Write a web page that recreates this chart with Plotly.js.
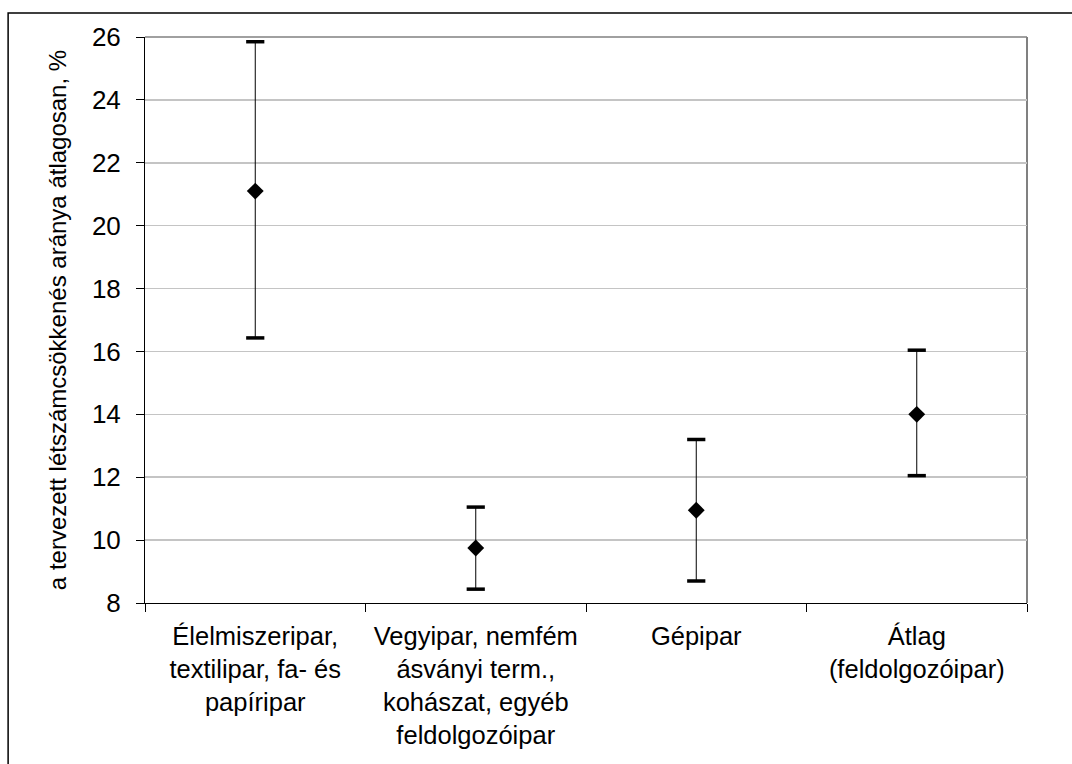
<!DOCTYPE html>
<html>
<head>
<meta charset="utf-8">
<script src="https://cdn.plot.ly/plotly-3.0.1.min.js"></script>
<style>
html,body{margin:0;padding:0;background:#fff;}
#chart{width:1072px;height:764px;}
</style>
</head>
<body>
<div id="chart"></div>
<script>
const categories = [
  "Élelmiszeripar,<br>textilipar, fa- és<br>papíripar",
  "Vegyipar, nemfém<br>ásványi term.,<br>kohászat, egyéb<br>feldolgozóipar",
  "Gépipar",
  "Átlag<br>(feldolgozóipar)"
];
const meanValues  = [21.1, 9.75, 10.95, 14.0];
const upperValues = [25.85, 11.05, 13.2, 16.04];
const lowerValues = [16.43, 8.44, 8.7, 12.05];
const yTickValues = [8, 10, 12, 14, 16, 18, 20, 22, 24, 26];

const plus  = upperValues.map((u, i) => u - meanValues[i]);
const minus = meanValues.map((m, i) => m - lowerValues[i]);

const font = "Liberation Sans, Arial, sans-serif";

const traces = [
  {
    type: "scatter", mode: "markers", x: categories, y: meanValues,
    marker: {symbol: "diamond", size: 13, color: "#000"},
    error_y: {type: "data", symmetric: false, array: plus, arrayminus: minus,
              color: "#000", thickness: 1, width: 0},
    hoverinfo: "skip", showlegend: false
  },
  {
    type: "scatter", mode: "markers", x: categories, y: upperValues,
    marker: {symbol: "line-ew", size: 13, line: {color: "#000", width: 3.5}},
    hoverinfo: "skip", showlegend: false
  },
  {
    type: "scatter", mode: "markers", x: categories, y: lowerValues,
    marker: {symbol: "line-ew", size: 13, line: {color: "#000", width: 3.5}},
    hoverinfo: "skip", showlegend: false
  }
];

const layout = {
  width: 1072, height: 764,
  margin: {l: 145, r: 45, t: 37, b: 161},
  paper_bgcolor: "#fff", plot_bgcolor: "#fff",
  font: {family: font, color: "#000", size: 25},
  xaxis: {
    type: "category", range: [-0.5, 3.5],
    showline: true, linecolor: "#000", linewidth: 1,
    ticks: "outside", tickson: "boundaries", ticklen: 8, tickcolor: "#000",
    ticklabelstandoff: 10,
    showgrid: false, zeroline: false,
    tickfont: {family: font, size: 25.5, color: "#000"},
    fixedrange: true
  },
  yaxis: {
    range: [8, 26], tickvals: yTickValues,
    showline: true, linecolor: "#000", linewidth: 1,
    ticks: "outside", ticklen: 8, tickcolor: "#000",
    ticklabelstandoff: 10,
    showgrid: true, gridcolor: "#c4c4c4", gridwidth: 1.5,
    zeroline: false,
    tickfont: {family: font, size: 26, color: "#000"},
    title: {text: "a tervezett létszámcsökkenés aránya átlagosan, %",
            standoff: 18,
            font: {family: font, size: 24, color: "#000"}},
    fixedrange: true
  },
  shapes: [
    {type: "line", xref: "paper", yref: "paper", x0: 0, x1: 1, y0: 1, y1: 1,
     line: {color: "#808080", width: 1.5}, layer: "below"},
    {type: "line", xref: "paper", yref: "paper", x0: 1, x1: 1, y0: 0, y1: 1,
     line: {color: "#808080", width: 2}, layer: "below"},
    {type: "rect", xref: "paper", yref: "paper",
     x0: -0.1552, x1: 1.1, y0: -0.35, y1: 1.0423,
     line: {color: "#000", width: 1.5}, fillcolor: "rgba(0,0,0,0)", layer: "above"}
  ]
};

Plotly.newPlot("chart", traces, layout, {displayModeBar: false, staticPlot: true});
</script>
</body>
</html>
